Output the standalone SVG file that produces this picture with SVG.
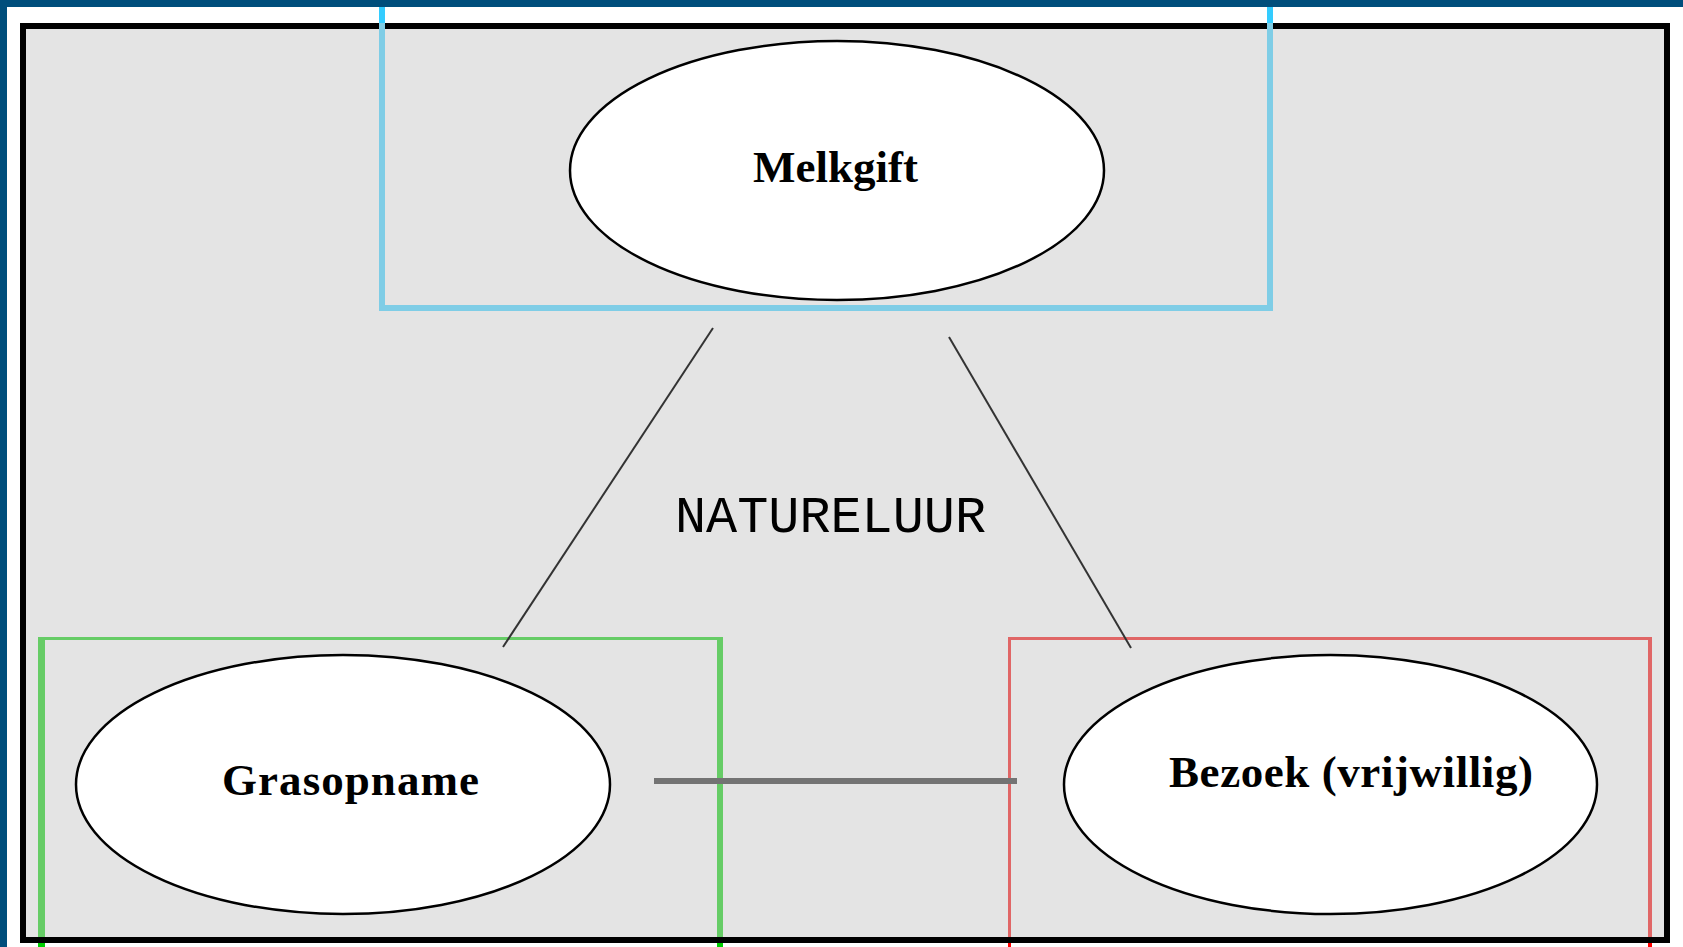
<svg xmlns="http://www.w3.org/2000/svg" width="1683" height="947" viewBox="0 0 1683 947">
  <style>
    .ell { fill: #ffffff; stroke: #000000; stroke-width: 2.5; }
    .lbl { font-family: "Liberation Serif", "Times New Roman", serif; font-weight: bold; font-size: 45px; fill: #000000; text-anchor: middle; }
    .mono { font-family: "Liberation Mono", "Courier New", monospace; font-size: 52px; fill: #000000; text-anchor: middle; }
    .conn { stroke: #333333; stroke-width: 2; fill: none; }
  </style>
  <rect x="0" y="0" width="1683" height="947" fill="#ffffff"/>
  <rect x="0" y="0" width="1683" height="7" fill="#004e7c"/>
  <rect x="0" y="0" width="7" height="947" fill="#004e7c"/>
  <!-- frame fill -->
  <rect x="23" y="26" width="1644" height="914" fill="#e4e4e4"/>

  <g id="node-grasopname">
    <line x1="41.5" y1="637" x2="41.5" y2="940" stroke="#66cc66" stroke-width="7"/>
    <line x1="38" y1="638.5" x2="723" y2="638.5" stroke="#66cc66" stroke-width="3"/>
    <line x1="720" y1="637" x2="720" y2="940" stroke="#66cc66" stroke-width="6"/>
    <ellipse class="ell" cx="343" cy="784.5" rx="267" ry="129.5"/>
    <text class="lbl" x="350.5" y="795" textLength="257" lengthAdjust="spacing">Grasopname</text>
  </g>

  <g id="node-bezoek">
    <line x1="1009.5" y1="637" x2="1009.5" y2="940" stroke="#e06666" stroke-width="3"/>
    <line x1="1008" y1="638.5" x2="1652" y2="638.5" stroke="#e06666" stroke-width="3"/>
    <line x1="1650" y1="637" x2="1650" y2="940" stroke="#e06666" stroke-width="4"/>
    <ellipse class="ell" cx="1330.5" cy="784.5" rx="266.5" ry="129.5"/>
    <text class="lbl" x="1351" y="787" textLength="364" lengthAdjust="spacing">Bezoek (vrijwillig)</text>
  </g>

  <g id="connectors">
    <line class="conn" x1="713" y1="328" x2="503" y2="647"/>
    <line class="conn" x1="949" y1="337" x2="1131" y2="648"/>
    <line x1="654" y1="781" x2="1017" y2="781" stroke="#737373" stroke-width="6"/>
  </g>

  <text id="label-natureluur" class="mono" x="830.5" y="532" textLength="311" lengthAdjust="spacingAndGlyphs">NATURELUUR</text>

  <!-- frame border -->
  <rect x="23" y="26" width="1644" height="914" fill="none" stroke="#000000" stroke-width="6"/>

  <g id="node-melkgift">
    <line x1="382" y1="7" x2="382" y2="23" stroke="#33ccff" stroke-width="6"/>
    <line x1="1270" y1="7" x2="1270" y2="23" stroke="#33ccff" stroke-width="6"/>
    <path d="M382,23 V308 H1270 V23" fill="none" stroke="#7fcde6" stroke-width="6"/>
    <ellipse class="ell" cx="837" cy="170.5" rx="267" ry="129.5"/>
    <text class="lbl" x="835.5" y="182">Melkgift</text>
  </g>

  <!-- bright extensions below frame -->
  <rect x="38" y="943" width="7" height="4" fill="#00cc00"/>
  <rect x="717" y="943" width="6" height="4" fill="#00cc00"/>
  <rect x="1008" y="943" width="3" height="4" fill="#ff0000"/>
  <rect x="1648" y="943" width="4" height="4" fill="#ff0000"/>
</svg>
